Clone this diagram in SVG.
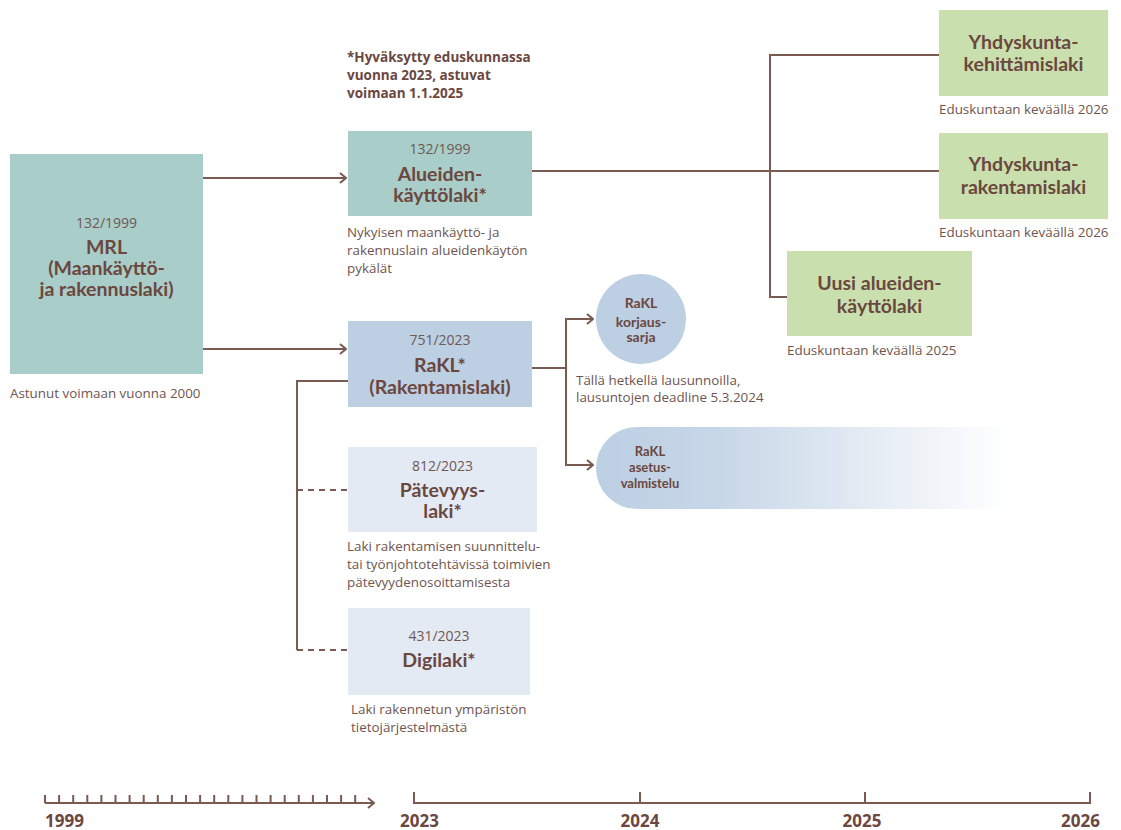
<svg xmlns="http://www.w3.org/2000/svg" width="1121" height="830" viewBox="0 0 1121 830">
<defs>
<style>
.ln{fill:none;stroke:#7b5a52;stroke-width:2}
.dash{fill:none;stroke:#7b5a52;stroke-width:2;stroke-dasharray:6 5}
.t{font-family:Lato,"Liberation Sans",sans-serif;font-weight:700;fill:#6b473f;text-anchor:middle}
.num{font-family:"Open Sans","Liberation Sans",sans-serif;font-size:14px;fill:#6e5955;text-anchor:middle}
.d{font-family:"Open Sans","Liberation Sans",sans-serif;font-size:13.4px;fill:#6e5550}
.fn{font-family:"Open Sans","Liberation Sans",sans-serif;font-size:13.5px;font-weight:700;fill:#6b473f}
.yr{font-family:"Open Sans","Liberation Sans",sans-serif;font-size:17px;font-weight:700;fill:#6b473f}
.teal{fill:#a9cdc8}
.green{fill:#c9e0ae}
.blue{fill:#bccfe3}
.lblue{fill:#e3eaf4}
</style>
<marker id="arr" viewBox="0 0 8 12" refX="7" refY="6" markerWidth="8" markerHeight="12" markerUnits="userSpaceOnUse" orient="auto">
<path d="M1,1 L7,6 L1,11" fill="none" stroke="#7b5a52" stroke-width="2"/>
</marker>
<linearGradient id="fade" x1="0" y1="0" x2="1" y2="0">
<stop offset="0" stop-color="#bccfe3"/>
<stop offset="0.3" stop-color="#c8d7e8"/>
<stop offset="1" stop-color="#ffffff"/>
</linearGradient>
</defs>
<rect width="1121" height="830" fill="#ffffff"/>

<g id="connectors">
<path class="ln" d="M203,178 H346" marker-end="url(#arr)"/>
<path class="ln" d="M203,349 H346" marker-end="url(#arr)"/>
<path class="ln" d="M532,171 H939"/>
<path class="ln" d="M939,55 H770 V297 H787"/>
<path class="ln" d="M532,368 H566"/>
<path class="ln" d="M592,319 H566 V465 H592"/>
<path class="ln" d="M566,319 H593" marker-end="url(#arr)"/>
<path class="ln" d="M566,465 H593" marker-end="url(#arr)"/>
<path class="ln" d="M348,381 H297 V650"/>
<path class="dash" d="M297,490 H347"/>
<path class="dash" d="M297,650 H347"/>
</g>

<g id="mrl">
<rect class="teal" x="10" y="154" width="193" height="220"/>
<text class="num" x="106.5" y="228">132/1999</text>
<text class="t" font-size="19.5" x="106.5" y="254">MRL</text>
<text class="t" font-size="19.5" x="106.5" y="275">(Maankäyttö-</text>
<text class="t" font-size="19.5" x="106.5" y="296">ja rakennuslaki)</text>
<text class="d" x="10" y="398">Astunut voimaan vuonna 2000</text>
</g>

<g id="footnote">
<text class="fn" x="347" y="62">*Hyväksytty eduskunnassa</text>
<text class="fn" x="347" y="80">vuonna 2023, astuvat</text>
<text class="fn" x="347" y="98">voimaan 1.1.2025</text>
</g>

<g id="alueidenkayttolaki">
<rect class="teal" x="348" y="131" width="184" height="85"/>
<text class="num" x="440" y="154">132/1999</text>
<text class="t" font-size="19.5" x="440" y="181">Alueiden-</text>
<text class="t" font-size="19.5" x="440" y="202">käyttölaki*</text>
<text class="d" x="347" y="237">Nykyisen maankäyttö- ja</text>
<text class="d" x="347" y="255">rakennuslain alueidenkäytön</text>
<text class="d" x="347" y="273">pykälät</text>
</g>

<g id="yhdyskuntakehittamislaki">
<rect class="green" x="939" y="10" width="169" height="86"/>
<text class="t" font-size="19.5" x="1023.5" y="49">Yhdyskunta-</text>
<text class="t" font-size="19.5" x="1023.5" y="71">kehittämislaki</text>
<text class="d" x="939" y="114">Eduskuntaan keväällä 2026</text>
</g>

<g id="yhdyskuntarakentamislaki">
<rect class="green" x="939" y="133" width="169" height="86"/>
<text class="t" font-size="19.5" x="1023.5" y="171">Yhdyskunta-</text>
<text class="t" font-size="19.5" x="1023.5" y="194">rakentamislaki</text>
<text class="d" x="939" y="237">Eduskuntaan keväällä 2026</text>
</g>

<g id="uusialueidenkayttolaki">
<rect class="green" x="787" y="251" width="185" height="85"/>
<text class="t" font-size="19.5" x="879.5" y="290">Uusi alueiden-</text>
<text class="t" font-size="19.5" x="879.5" y="313">käyttölaki</text>
<text class="d" x="787" y="355">Eduskuntaan keväällä 2025</text>
</g>

<g id="rakl">
<rect class="blue" x="348" y="321" width="184" height="86"/>
<text class="num" x="440" y="345">751/2023</text>
<text class="t" font-size="19.5" x="440" y="372">RaKL*</text>
<text class="t" font-size="19.5" x="440" y="394">(Rakentamislaki)</text>
</g>

<g id="korjaussarja">
<circle class="blue" cx="641" cy="319" r="45"/>
<text class="t" font-size="14" x="641" y="308">RaKL</text>
<text class="t" font-size="14" x="641" y="327">korjaus-</text>
<text class="t" font-size="14" x="641" y="342">sarja</text>
<text class="d" x="576" y="385">Tällä hetkellä lausunnoilla,</text>
<text class="d" x="576" y="402">lausuntojen deadline 5.3.2024</text>
</g>

<g id="asetusvalmistelu">
<path d="M637,427 H1010 V509 H637 A41,41 0 0 1 637,427 Z" fill="url(#fade)"/>
<text class="t" font-size="13" x="650" y="456">RaKL</text>
<text class="t" font-size="13" x="650" y="472">asetus-</text>
<text class="t" font-size="13" x="650" y="488">valmistelu</text>
</g>

<g id="patevyyslaki">
<rect class="lblue" x="348" y="447" width="189" height="85"/>
<text class="num" x="442.5" y="471">812/2023</text>
<text class="t" font-size="19.5" x="442.5" y="497">Pätevyys-</text>
<text class="t" font-size="19.5" x="442.5" y="518">laki*</text>
<text class="d" x="347" y="551">Laki rakentamisen suunnittelu-</text>
<text class="d" x="347" y="569">tai työnjohtotehtävissä toimivien</text>
<text class="d" x="347" y="587">pätevyydenosoittamisesta</text>
</g>

<g id="digilaki">
<rect class="lblue" x="348" y="608" width="182" height="87"/>
<text class="num" x="439" y="641">431/2023</text>
<text class="t" font-size="19.5" x="439" y="667">Digilaki*</text>
<text class="d" x="351" y="714">Laki rakennetun ympäristön</text>
<text class="d" x="351" y="732">tietojärjestelmästä</text>
</g>

<g id="timeline">
<path class="ln" d="M45,803 H374" marker-end="url(#arr)"/>
<path class="ln" d="M45,795 V803 M59.1,795 V803 M73.2,795 V803 M87.3,795 V803 M101.4,795 V803 M115.5,795 V803 M129.6,795 V803 M143.7,795 V803 M157.8,795 V803 M171.9,795 V803 M186,795 V803 M200.1,795 V803 M214.2,795 V803 M228.3,795 V803 M242.4,795 V803 M256.5,795 V803 M270.6,795 V803 M284.7,795 V803 M298.8,795 V803 M312.9,795 V803 M327,795 V803 M341.1,795 V803 M355.2,795 V803"/>
<path class="ln" d="M414,792 V803 H1090 V792 M640,792 V803 M865,792 V803"/>
<text class="yr" x="45" y="827">1999</text>
<text class="yr" x="400" y="827">2023</text>
<text class="yr" x="640" y="827" text-anchor="middle">2024</text>
<text class="yr" x="862" y="827" text-anchor="middle">2025</text>
<text class="yr" x="1100" y="827" text-anchor="end">2026</text>
</g>
</svg>
